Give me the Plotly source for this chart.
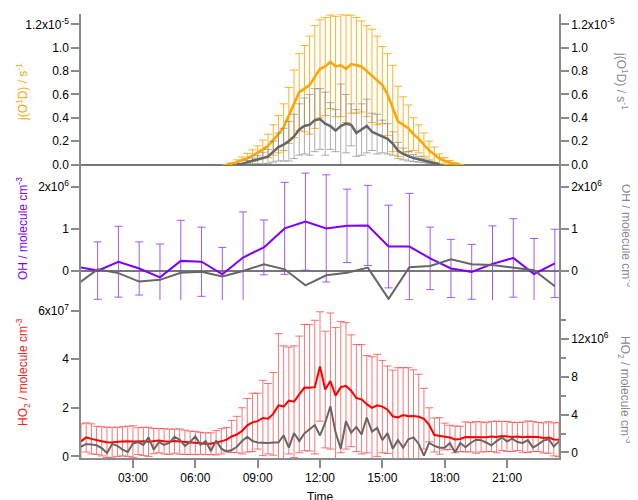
import numpy as np
import plotly.graph_objects as go

# ---------------- data ----------------
# j(O1D) (x1e-5 s-1), 15-min grid
t_jo1d = np.arange(7.5, 18.76, 0.25)
jo1d = [0.0, 0.005,
        0.02, 0.035, 0.055, 0.075,
        0.10, 0.13, 0.16, 0.21,
        0.26, 0.32, 0.42, 0.52,
        0.62, 0.65, 0.68, 0.75,
        0.82, 0.84, 0.88, 0.84,
        0.85, 0.82, 0.86, 0.85,
        0.84, 0.80, 0.76, 0.72,
        0.68, 0.60, 0.48, 0.37,
        0.34, 0.31, 0.26, 0.22,
        0.17, 0.12, 0.085, 0.05,
        0.03, 0.015, 0.005, 0.0]
jo1d_err = [0.0, 0.01,
            0.02, 0.03, 0.04, 0.05,
            0.06, 0.08, 0.10, 0.13,
            0.16, 0.20, 0.24, 0.29,
            0.33, 0.37, 0.42, 0.44,
            0.42, 0.42, 0.40, 0.43,
            0.44, 0.46, 0.42, 0.41,
            0.39, 0.39, 0.40, 0.38,
            0.33, 0.35, 0.37, 0.30,
            0.24, 0.20, 0.14, 0.12,
            0.10, 0.08, 0.065, 0.04,
            0.03, 0.02, 0.01, 0.0]

t_jo1d_b = np.arange(8.0, 17.76, 0.25)
jo1d_b = [0.0, 0.005, 0.02, 0.03,
          0.04, 0.055, 0.07, 0.11,
          0.15, 0.17, 0.20, 0.24,
          0.30, 0.33, 0.34, 0.38,
          0.39, 0.35, 0.33, 0.29,
          0.33, 0.35, 0.34, 0.27,
          0.30, 0.33, 0.28, 0.26,
          0.24, 0.22, 0.18, 0.12,
          0.09, 0.07, 0.055, 0.045,
          0.035, 0.02, 0.01, 0.0]
jo1d_b_err = [0.0, 0.005, 0.015, 0.025,
              0.035, 0.05, 0.06, 0.09,
              0.12, 0.14, 0.17, 0.19,
              0.22, 0.24, 0.26, 0.27,
              0.26, 0.27, 0.20, 0.18,
              0.36, 0.25, 0.18, 0.20,
              0.22, 0.23, 0.16, 0.17,
              0.14, 0.13, 0.10, 0.07,
              0.05, 0.04, 0.03, 0.025,
              0.02, 0.01, 0.005, 0.0]

# OH (x1e6 molecule cm-3), hourly
t_oh = np.arange(0.3, 23.31, 1.0)
oh = [0.10, 0.01, 0.22, 0.06, -0.15, 0.24, 0.22, -0.08, 0.32, 0.56, 1.01, 1.17,
      1.01, 1.07, 1.08, 0.58, 0.58, 0.30, 0.06, -0.02, 0.17, 0.31, -0.07, 0.18]
oh_err = [0.80, 0.68, 0.84, 0.63, 0.79, 0.96, 0.82, 0.64, 1.08, 0.65, 1.09, 1.15,
          1.27, 0.87, 0.95, 0.98, 1.26, 0.74, 0.69, 0.65, 0.90, 0.93, 0.84, 0.81]
oh_b = [-0.32, 0.04, -0.05, -0.25, -0.21, -0.04, -0.02, -0.13, 0.0, 0.16, 0.04, -0.34,
        -0.10, -0.04, 0.08, -0.66, 0.09, 0.12, 0.28, 0.16, 0.14, 0.08, 0.02, -0.36]

# HO2 (x1e7 left, x1e6 right), 15-min grid
t_ho2 = np.arange(0.5, 23.51, 0.25)
ho2 = [0.62, 0.78,
       0.72, 0.66, 0.62, 0.58,
       0.57, 0.60, 0.62, 0.62,
       0.61, 0.63, 0.62, 0.60,
       0.63, 0.65, 0.62, 0.60,
       0.63, 0.61, 0.58, 0.56,
       0.55, 0.54, 0.52, 0.52,
       0.56, 0.62, 0.69, 0.82,
       0.90, 1.05, 1.28, 1.40,
       1.45, 1.58, 1.55, 1.75,
       2.10, 2.05, 2.30, 2.25,
       2.55, 2.83, 2.82, 2.85,
       3.70, 2.75, 3.10, 2.50,
       2.85, 2.90, 2.70, 2.40,
       2.35, 2.15, 2.00, 2.10,
       2.05, 1.92, 1.65, 1.60,
       1.70, 1.65, 1.66, 1.63,
       1.55, 1.30, 0.88, 0.84,
       0.82, 0.78, 0.70, 0.72,
       0.80, 0.79, 0.78, 0.80,
       0.79, 0.82, 0.80, 0.84,
       0.82, 0.80, 0.82, 0.79,
       0.81, 0.82, 0.80, 0.76,
       0.78, 0.70, 0.69]
ho2_err = [0.72, 0.60,
           0.62, 0.58, 0.60, 0.62,
           0.63, 0.60, 0.60, 0.62,
           0.65, 0.55, 0.58, 0.60,
           0.52, 0.50, 0.52, 0.52,
           0.50, 0.52, 0.50, 0.48,
           0.48, 0.45, 0.45, 0.45,
           0.50, 0.52, 0.50, 0.66,
           0.75, 0.95, 1.10, 1.20,
           1.15, 1.55, 1.45, 1.70,
           2.95, 2.50, 2.20, 2.30,
           2.40, 2.60, 2.60, 2.75,
           2.25, 2.40, 2.80, 2.80,
           2.70, 2.60, 2.30, 2.20,
           2.25, 2.00, 2.10, 2.10,
           1.90, 1.80, 1.90, 2.05,
           1.95, 2.00, 1.90, 1.75,
           1.25, 0.70, 0.70, 0.75,
           0.55, 0.50, 0.55, 0.52,
           0.62, 0.60, 0.65, 0.62,
           0.60, 0.62, 0.65, 0.60,
           0.62, 0.60, 0.58, 0.62,
           0.65, 0.62, 0.60, 0.62,
           0.65, 0.68, 0.70]
ho2_b = [0.6, 0.9,
         0.85, 0.75, 0.45, -0.05,
         0.9, 0.7, 0.3, 0.05,
         0.95, 1.1, 0.8, 1.6,
         0.3, 1.1, 0.8, 1.0,
         1.65, 1.35, 0.7, 1.1,
         1.7, 0.8, 1.2, 0.15,
         1.25, 0.4, 0.1, 0.25,
         0.6, 1.2, 1.65, 1.2,
         1.05, 1.0, 1.0, 1.05,
         1.05, 1.8, 0.5, 2.05,
         1.2, 2.0, 2.5, 2.9,
         1.8, 3.15, 4.9, 2.1,
         0.4, 3.3, 2.1, 2.7,
         1.9, 3.7, 2.2, 2.6,
         1.3, 2.05, 0.4, 1.3,
         0.5, 1.4, 1.6, 0.9,
         -0.35, 1.0, 0.7, 0.5,
         0.5, 1.0, 0.0, 1.0,
         0.55, 1.0, 1.34, 1.3,
         1.05, 0.75, 1.2, 1.6,
         1.16, 1.45, 1.1, 1.0,
         1.3, 0.5, 0.85, 1.25,
         1.4, 0.63, 1.16]

x_tickvals = [3, 6, 9, 12, 15, 18, 21]
x_ticktext = ["03:00", "06:00", "09:00", "12:00", "15:00", "18:00", "21:00"]

# ---------------- styling ----------------
ORANGE = "#FFA500"
PURPLE = "#7F00FF"
RED = "#FF0000"
GREY = "#666666"
AX = "#8a8a8a"
FONT = "Liberation Sans, Arial, sans-serif"

s5 = lambda v: [x * 1e-5 for x in v]
s6 = lambda v: [x * 1e6 for x in v]
s7 = lambda v: [x * 1e7 for x in v]

def errtrace(x, y, e, color, yaxis, width=4):
    return go.Scatter(x=x, y=y, mode="markers", yaxis=yaxis, xaxis="x",
                      marker=dict(size=1, color="rgba(0,0,0,0)"),
                      error_y=dict(type="data", array=e, visible=True, color=color,
                                   thickness=1, width=width),
                      hoverinfo="skip", showlegend=False)

def linetrace(x, y, color, yaxis, w=2):
    return go.Scatter(x=x, y=y, mode="lines", yaxis=yaxis, xaxis="x",
                      line=dict(color=color, width=w), showlegend=False)

fig = go.Figure()
# top
fig.add_trace(errtrace(t_jo1d, s5(jo1d), s5(jo1d_err), "rgba(255,165,0,0.85)", "y"))
fig.add_trace(errtrace(t_jo1d_b, s5(jo1d_b), s5(jo1d_b_err), "rgba(120,120,120,0.6)", "y2"))
fig.add_trace(linetrace(t_jo1d, s5(jo1d), ORANGE, "y", 2.5))
fig.add_trace(linetrace(t_jo1d_b, s5(jo1d_b), GREY, "y2", 2.5))
# middle
fig.add_trace(errtrace(t_oh, s6(oh), s6(oh_err), "rgba(140,60,255,0.85)", "y3", 4))
fig.add_trace(linetrace(t_oh, s6(oh_b), GREY, "y4", 2))
fig.add_trace(linetrace(t_oh, s6(oh), PURPLE, "y3", 2))
# bottom
fig.add_trace(errtrace(t_ho2, s7(ho2), s7(ho2_err), "rgba(255,40,40,0.65)", "y5", 4))
fig.add_trace(linetrace(t_ho2, s7(ho2), RED, "y5", 2))
fig.add_trace(linetrace(t_ho2, s6(ho2_b), GREY, "y6", 2))

# page is offset by the 8px body margin -> plot area (page px) 81..559 x 14..458
H = 444.0
def dom(ytop_px, ybot_px):
    return [(458 - ybot_px) / H, (458 - ytop_px) / H]

tickfont = dict(family=FONT, size=12, color="black")
common = dict(showgrid=False, showline=True, linecolor=AX, linewidth=1.5,
              ticks="outside", ticklen=8, tickcolor=AX, tickwidth=1.5,
              tickfont=tickfont, zeroline=False, fixedrange=True)

jtv = [0, 0.2e-5, 0.4e-5, 0.6e-5, 0.8e-5, 1.0e-5, 1.2e-5]
jtt = ["0.0", "0.2", "0.4", "0.6", "0.8", "1.0", "1.2x10<sup>-5</sup>"]

fig.update_layout(
    width=638, height=500,
    margin=dict(l=73, r=87, t=6, b=50),
    paper_bgcolor="white", plot_bgcolor="white",
    font=dict(family=FONT, size=12),
    xaxis=dict(range=[0.5, 23.5], anchor="y5", tickmode="array",
               tickvals=x_tickvals, ticktext=x_ticktext, **common),
    yaxis=dict(domain=dom(14, 165), range=[-0.0043e-5, 1.2897e-5], anchor="x",
               tickmode="array", tickvals=jtv, ticktext=jtt,
               **{**common, "zeroline": True, "zerolinecolor": "#777777", "zerolinewidth": 2}),
    yaxis2=dict(overlaying="y", side="right", anchor="x",
                range=[-0.0043e-5, 1.2897e-5], tickmode="array",
                tickvals=jtv, ticktext=jtt, **common),
    yaxis3=dict(domain=dom(165, 458), range=[-4.431e6, 2.512e6], anchor="x",
                tickmode="array", tickvals=[0, 1e6, 2e6],
                ticktext=["0", "1", "2x10<sup>6</sup>"],
                **{**common, "zeroline": True, "zerolinecolor": "#777777", "zerolinewidth": 1.5}),
    yaxis4=dict(overlaying="y3", side="right", anchor="x",
                range=[-4.431e6, 2.512e6], tickmode="array", tickvals=[0, 1e6, 2e6],
                ticktext=["0", "1", "2x10<sup>6</sup>"], **common),
    yaxis5=dict(domain=dom(300, 458), range=[-0.0657e7, 6.435e7], anchor="x",
                tickmode="array", tickvals=[0, 2e7, 4e7, 6e7],
                ticktext=["0", "2", "4", "6x10<sup>7</sup>"], **common),
    yaxis6=dict(overlaying="y5", side="right", anchor="x",
                range=[-0.593e6, 16.16e6], tickmode="array",
                tickvals=[0, 4e6, 8e6, 12e6],
                ticktext=["0", "4", "8", "12x10<sup>6</sup>"],
                minor=dict(tickmode="array", tickvals=[2e6, 6e6, 10e6, 14e6],
                           ticklen=5, tickcolor=AX, tickwidth=1.5, ticks="outside",
                           showgrid=False),
                **common),
)

def ann(text, x, y, color, angle):
    fig.add_annotation(text=text, x=x, y=y, xref="paper", yref="paper",
                       showarrow=False, textangle=angle,
                       font=dict(family=FONT, size=12, color=color),
                       xanchor="center", yanchor="middle")

ann("j(O<sup>1</sup>D) / s<sup>-1</sup>", (22 - 81) / 478, (458 - 92) / H, ORANGE, -90)
ann("OH / molecule cm<sup>-3</sup>", (22 - 81) / 478, (458 - 229) / H, PURPLE, -90)
ann("HO<sub>2</sub> / molecule cm<sup>-3</sup>", (23 - 81) / 478, (458 - 372) / H, "#FF2020", -90)
ann("j(O<sup>1</sup>D) / s<sup>-1</sup>", (622 - 81) / 478, (458 - 81) / H, "#8a8a8a", 90)
ann("OH / molecule cm<sup>-3</sup>", (627 - 81) / 478, (458 - 235) / H, "#8a8a8a", 90)
ann("HO<sub>2</sub> / molecule cm<sup>-3</sup>", (625 - 81) / 478, (458 - 390) / H, "#8a8a8a", 90)
ann("Time", 0.5, (458 - 497) / H, "black", 0)

fig.write_html("out.html")
